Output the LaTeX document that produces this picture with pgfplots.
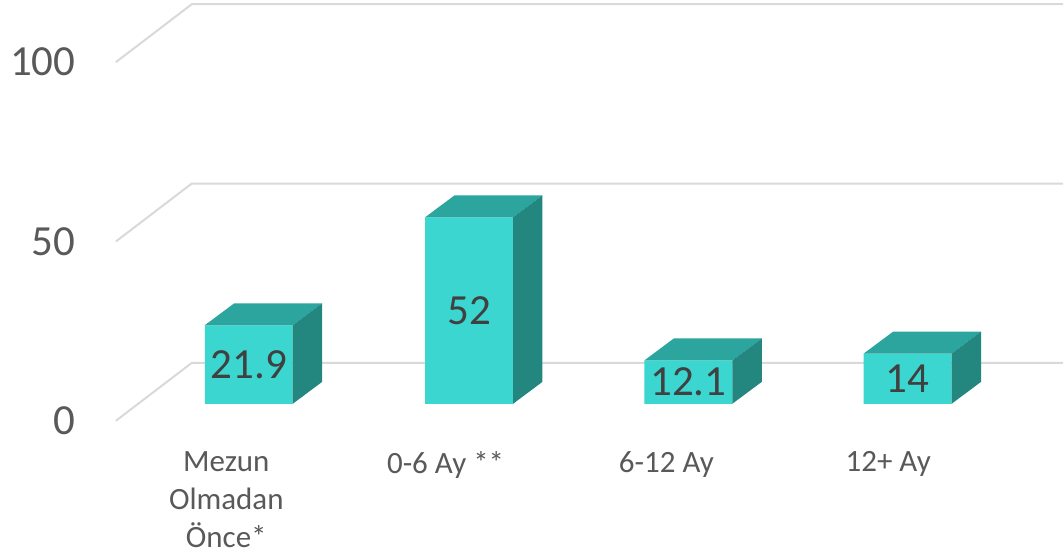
\documentclass[border=0pt]{standalone}
\usepackage{pgfplots}
\pgfplotsset{compat=1.18}
\usepackage{fontspec}
\setmainfont{Carlito}
\definecolor{frontc}{HTML}{3AD6CF}
\definecolor{topc}{HTML}{2BA59E}
\definecolor{sidec}{HTML}{23877F}
\definecolor{gridc}{HTML}{D9D9D9}
\definecolor{tickc}{HTML}{595959}
\definecolor{labc}{HTML}{404040}
% top and side face of one bar: #1 = x of front centre (px), #2 = value
\newcommand\cubefaces[2]{%
  \pgfmathsetmacro\xl{#1-44}\pgfmathsetmacro\xr{#1+44}%
  \pgfmathsetmacro\xbl{#1-14.5}\pgfmathsetmacro\xbr{#1+73.5}%
  \pgfmathsetmacro\vt{#2+6.13}%
  \addplot[fill=topc, draw=none] coordinates {(\xl,#2) (\xr,#2) (\xbr,\vt) (\xbl,\vt)} -- cycle;
  \addplot[fill=sidec, draw=none] coordinates {(\xr,#2) (\xbr,\vt) (\xbr,6.13) (\xr,0)} -- cycle;
}
\begin{document}
\begin{tikzpicture}
\begin{axis}[
  x=0.5pt, y=1.795pt,
  xmin=76, xmax=1064, ymin=-13.2, ymax=112.53,
  clip=false,
  axis line style={draw=none},
  major tick length=0pt,
  /pgf/number format/assume math mode=true,
  xtick={226.5,446,667,889},
  xticklabels={{Mezun\\Olmadan\\Önce*},{0-6 Ay **},{6-12 Ay},{12+ Ay}},
  xticklabel style={align=center, anchor=north, inner sep=0pt,
    font=\fontsize{15.5}{19}\selectfont, text=tickc},
  ytick={-4.74,45.26,95.26},
  yticklabels={0,50,100},
  yticklabel style={anchor=east, inner sep=0pt,
    font=\fontsize{21.5}{24}\selectfont, text=tickc},
]
% bounding box of the whole picture
\path (axis cs:0,-42.34) rectangle (axis cs:1064,112.53);
% 3D gridlines
\addplot[gridc, line width=1pt] coordinates {(116,-4.74) (192,11.42) (1064,11.42)};
\addplot[gridc, line width=1pt] coordinates {(116,45.26) (192,61.42) (1064,61.42)};
\addplot[gridc, line width=1pt] coordinates {(116,95.26) (192,111.42) (1064,111.42)};
% front faces
\addplot[ybar, bar width=88, fill=frontc, draw=none,
  visualization depends on={rawy \as \rawy},
  nodes near coords={\pgfmathprintnumber[assume math mode=true]{\pgfplotspointmeta}},
  every node near coord/.append style={anchor=center, yshift={-0.8975pt*\rawy},
    font=\fontsize{21.5}{24}\selectfont, text=labc}]
  coordinates {(249,21.9) (469.5,52) (689,12.1) (908.5,14)};
\cubefaces{249}{21.9}
\cubefaces{469.5}{52}
\cubefaces{689}{12.1}
\cubefaces{908.5}{14}
\end{axis}
\end{tikzpicture}
\end{document}
